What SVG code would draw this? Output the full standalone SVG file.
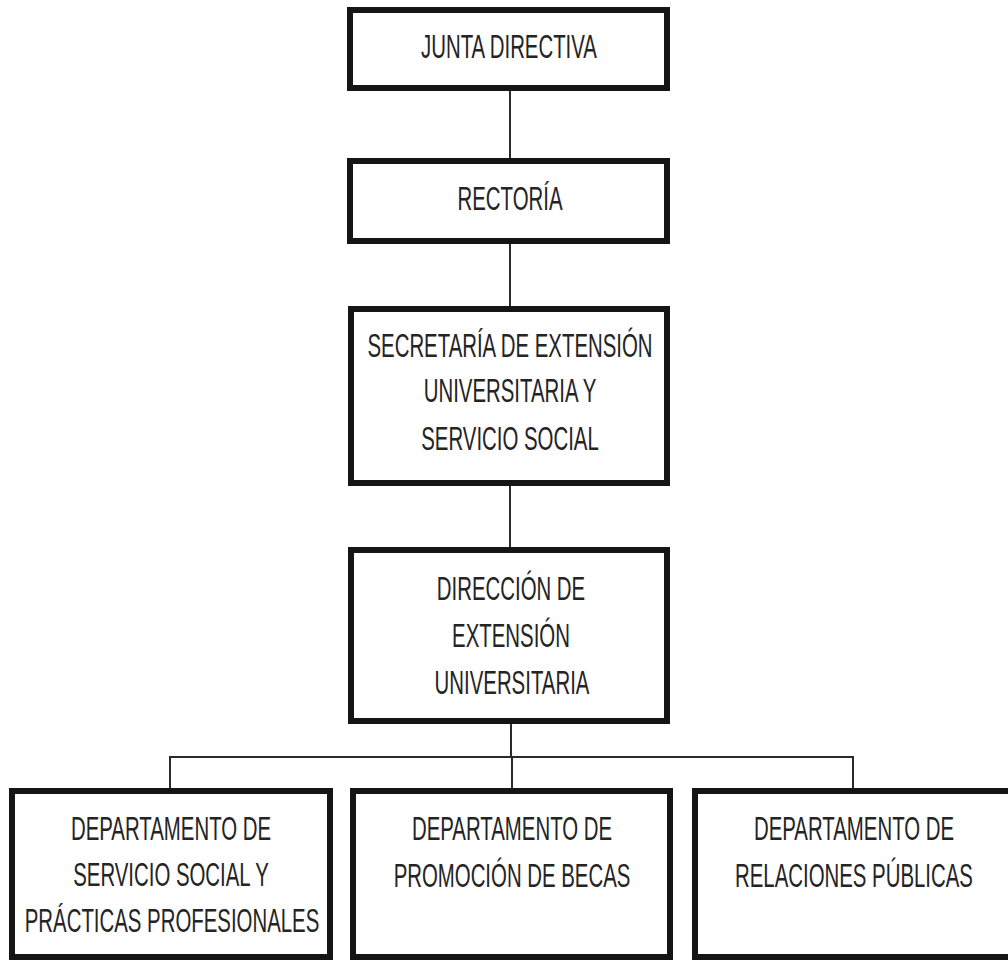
<svg xmlns="http://www.w3.org/2000/svg" width="1008" height="962" viewBox="0 0 1008 962">
  <style>
    .box { fill: #ffffff; stroke: #151515; stroke-width: 6; }
    .lbl { font-family: "Liberation Sans", Arial, sans-serif; font-size: 34px; fill: #242424; text-anchor: middle; }
    .link { fill: none; stroke: #2a2a2a; stroke-width: 2; }
  </style>
  <rect width="1008" height="962" fill="#ffffff"/>

  <!-- reporting lines -->
  <g id="connectors">
    <line class="link" x1="510" y1="91" x2="510" y2="158"/>
    <line class="link" x1="510" y1="244" x2="510" y2="306"/>
    <line class="link" x1="510" y1="486" x2="510" y2="547"/>
    <line class="link" x1="511" y1="724" x2="511" y2="757"/>
    <polyline class="link" points="170,788 170,757 853,757 853,788"/>
    <line class="link" x1="512" y1="757" x2="512" y2="788"/>
  </g>

  <!-- labels are set in a narrow face: each line is squeezed to 60% width about its centre -->
  <g id="junta-directiva">
    <rect class="box" x="350" y="10" width="317" height="78"/>
    <text class="lbl" transform="translate(509 0) scale(0.6 1)" x="0" y="58">JUNTA DIRECTIVA</text>
  </g>

  <g id="rectoria">
    <rect class="box" x="350" y="161" width="317" height="80"/>
    <text class="lbl" transform="translate(510 0) scale(0.6 1)" x="0" y="210">RECTORÍA</text>
  </g>

  <g id="secretaria-extension">
    <rect class="box" x="351" y="309" width="316" height="174"/>
    <text class="lbl" transform="translate(510 0) scale(0.6 1)" x="0" y="357">SECRETARÍA DE EXTENSIÓN</text>
    <text class="lbl" transform="translate(510 0) scale(0.6 1)" x="0" y="402">UNIVERSITARIA Y</text>
    <text class="lbl" transform="translate(510 0) scale(0.6 1)" x="0" y="450">SERVICIO SOCIAL</text>
  </g>

  <g id="direccion-extension">
    <rect class="box" x="351" y="550" width="316" height="171"/>
    <text class="lbl" transform="translate(511 0) scale(0.6 1)" x="0" y="600">DIRECCIÓN DE</text>
    <text class="lbl" transform="translate(511 0) scale(0.6 1)" x="0" y="647">EXTENSIÓN</text>
    <text class="lbl" transform="translate(512 0) scale(0.6 1)" x="0" y="694">UNIVERSITARIA</text>
  </g>

  <g id="depto-servicio-social">
    <rect class="box" x="12" y="791" width="318" height="166"/>
    <text class="lbl" transform="translate(171 0) scale(0.6 1)" x="0" y="840">DEPARTAMENTO DE</text>
    <text class="lbl" transform="translate(171 0) scale(0.6 1)" x="0" y="886">SERVICIO SOCIAL Y</text>
    <text class="lbl" transform="translate(172 0) scale(0.6 1)" x="0" y="932">PRÁCTICAS PROFESIONALES</text>
  </g>

  <g id="depto-becas">
    <rect class="box" x="353" y="791" width="317" height="166"/>
    <text class="lbl" transform="translate(512 0) scale(0.6 1)" x="0" y="840">DEPARTAMENTO DE</text>
    <text class="lbl" transform="translate(512 0) scale(0.6 1)" x="0" y="887">PROMOCIÓN DE BECAS</text>
  </g>

  <g id="depto-relaciones-publicas">
    <rect class="box" x="695" y="791" width="320" height="166"/>
    <text class="lbl" transform="translate(854 0) scale(0.6 1)" x="0" y="840">DEPARTAMENTO DE</text>
    <text class="lbl" transform="translate(854 0) scale(0.6 1)" x="0" y="887">RELACIONES PÚBLICAS</text>
  </g>
</svg>
